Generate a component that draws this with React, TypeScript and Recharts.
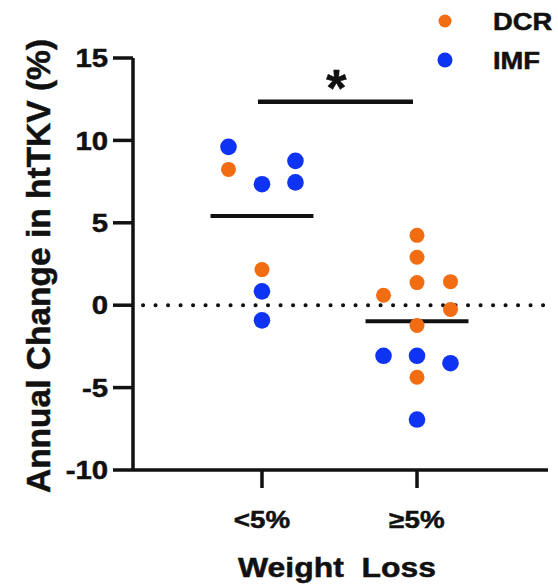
import {
  ScatterChart,
  Scatter,
  XAxis,
  YAxis,
  ReferenceLine,
  Legend
} from 'recharts';

// groups on the x axis
const categories = ['<5%', '≥5%'];

// DCR points: group index, horizontal jitter, annual change (%)
const dcrGroup = [1, 1, 2, 2, 2, 2, 2, 2, 2, 2];
const dcrJitter = [-0.216, 0, 0, 0, 0, 0.216, -0.216, 0.216, 0, 0];
const dcrValues = [8.24, 2.16, 4.24, 2.91, 1.37, 1.43, 0.6, -0.26, -1.23, -4.37];

// IMF points
const imfGroup = [1, 1, 1, 1, 1, 1, 2, 2, 2, 2];
const imfJitter = [-0.216, 0, 0.216, 0.216, 0, 0, -0.216, 0, 0.216, 0];
const imfValues = [9.61, 7.34, 8.76, 7.45, 0.84, -0.92, -3.07, -3.07, -3.52, -6.94];

// group means and the significance bar
const groupMeans = [5.42, -0.97];
const meanHalfWidth = 0.332;
const sigBarStart = 0.974;
const sigBarEnd = 1.974;
const sigBarValue = 12.35;

const yTicks = [-10, -5, 0, 5, 10, 15];

const ORANGE = '#F26C12';
const BLUE = '#0F33F2';
const INK = '#111';
const FONT = '"Liberation Sans", Arial, sans-serif';

// heavier text, the source is a slightly blurred bold sans
const textStyle = {
  fontFamily: FONT,
  fontWeight: 'bold' as const,
  fill: INK,
  stroke: INK,
  strokeWidth: 0.5
};

const buildPoints = (groups: number[], jitter: number[], values: number[]) =>
  values.map((v, i) => ({ x: groups[i] + jitter[i], y: v }));

const dcrData = buildPoints(dcrGroup, dcrJitter, dcrValues);
const imfData = buildPoints(imfGroup, imfJitter, imfValues);

const YTick = ({ x, y, payload }: any) => (
  <text
    transform={`translate(${x},${y}) scale(1.15,1)`}
    textAnchor="end"
    dy="0.36em"
    fontSize={25.5}
    {...textStyle}
  >
    {payload.value}
  </text>
);

const XTick = ({ x, y, payload }: any) => (
  <text
    transform={`translate(${x},${y}) scale(1.18,1)`}
    textAnchor="middle"
    dy={40}
    fontSize={23.5}
    {...textStyle}
  >
    {categories[payload.value - 1]}
  </text>
);

const renderYLabel = () => (
  <text
    transform="translate(38,266) rotate(-90)"
    textAnchor="middle"
    dy="0.36em"
    fontSize={33.5}
    {...textStyle}
  >
    Annual Change in htTKV (%)
  </text>
);

const renderXLabel = () => (
  <text
    transform="translate(337,577) scale(1.14,1)"
    textAnchor="middle"
    fontSize={28}
    {...textStyle}
  >
    Weight{'\u00A0\u00A0'}Loss
  </text>
);

const renderStar = (props: any) => {
  const vb = props.viewBox || {};
  return (
    <text
      x={vb.x + vb.width / 2 + 1}
      y={vb.y + 4}
      textAnchor="middle"
      fontSize={52}
      {...textStyle}
    >
      *
    </text>
  );
};

const dot = (color: string, r: number) => (props: any) =>
  <circle cx={props.cx} cy={props.cy} r={r} fill={color} />;

const renderLegend = () => (
  <svg width={558} height={80}>
    <circle cx={445} cy={21} r={6.5} fill={ORANGE} />
    <circle cx={445} cy={60} r={7.5} fill={BLUE} />
    {['DCR', 'IMF'].map((name, i) => (
      <text
        key={name}
        transform={`translate(493,${21 + i * 39}) scale(1.14,1)`}
        dy="0.36em"
        fontSize={24}
        {...textStyle}
      >
        {name}
      </text>
    ))}
  </svg>
);

export default function App() {
  return (
    <div style={{ position: 'absolute', left: 0, top: 0, width: 558, height: 587, background: '#fff' }}>
      <ScatterChart
        width={558}
        height={587}
        margin={{ top: 58, right: 10, bottom: 0, left: 0 }}
      >
        <XAxis
          type="number"
          dataKey="x"
          domain={[0.168, 2.845]}
          ticks={[1, 2]}
          tick={<XTick />}
          tickSize={18}
          tickMargin={0}
          height={117}
          stroke={INK}
          strokeWidth={3.5}
          label={renderXLabel}
        />
        <YAxis
          type="number"
          dataKey="y"
          domain={[-10, 15]}
          ticks={yTicks}
          tick={<YTick />}
          tickSize={20}
          tickMargin={5}
          width={133}
          stroke={INK}
          strokeWidth={3.5}
          label={renderYLabel}
        />
        <Legend
          layout="vertical"
          align="center"
          verticalAlign="middle"
          content={renderLegend}
          wrapperStyle={{ left: 0, top: 0, width: 558, height: 80 }}
        />
        <ReferenceLine
          y={0}
          stroke={INK}
          strokeWidth={4}
          strokeDasharray="0.1 12.4"
          strokeDashoffset={2.5}
          strokeLinecap="round"
        />
        {groupMeans.map((m, i) => (
          <ReferenceLine
            key={i}
            segment={[
              { x: i + 1 - meanHalfWidth, y: m },
              { x: i + 1 + meanHalfWidth, y: m }
            ]}
            stroke={INK}
            strokeWidth={4}
          />
        ))}
        <ReferenceLine
          segment={[
            { x: sigBarStart, y: sigBarValue },
            { x: sigBarEnd, y: sigBarValue }
          ]}
          stroke={INK}
          strokeWidth={4.5}
          label={renderStar}
        />
        <Scatter
          name="IMF"
          data={imfData}
          fill={BLUE}
          shape={dot(BLUE, 8.3)}
          isAnimationActive={false}
        />
        <Scatter
          name="DCR"
          data={dcrData}
          fill={ORANGE}
          shape={dot(ORANGE, 7.5)}
          isAnimationActive={false}
        />
      </ScatterChart>
    </div>
  );
}
